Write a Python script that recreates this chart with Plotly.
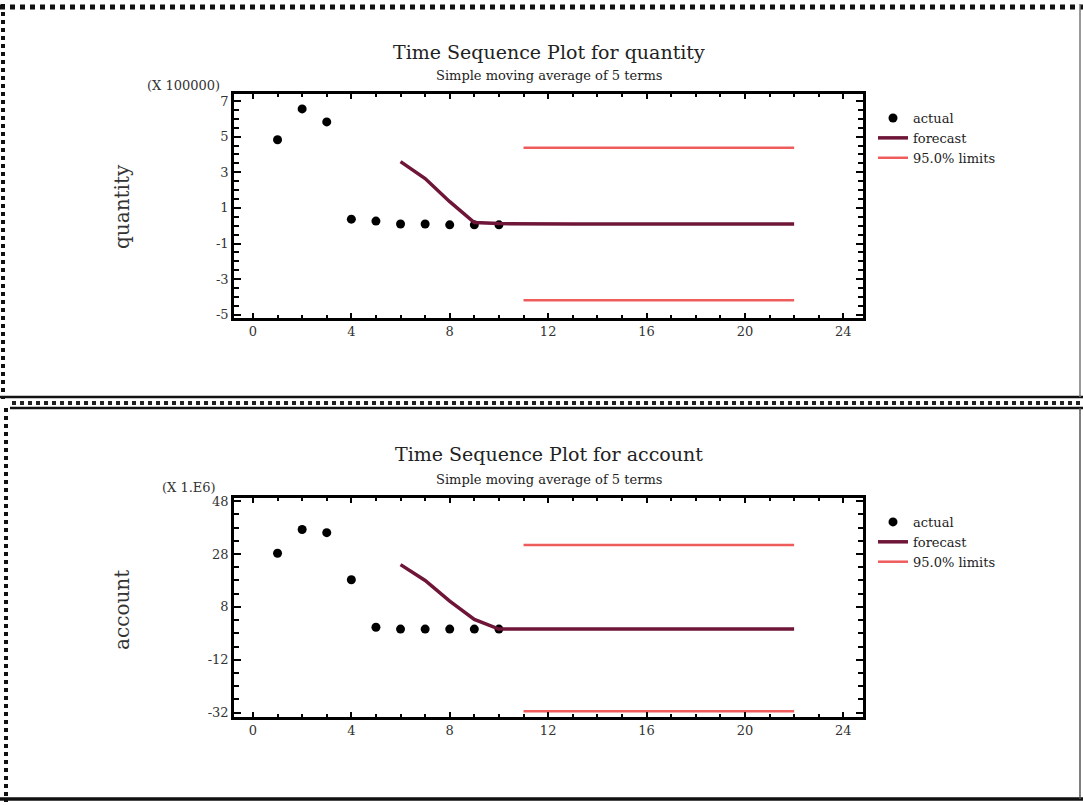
import plotly.graph_objects as go

# ---- data -------------------------------------------------------------
periods = [1, 2, 3, 4, 5, 6, 7, 8, 9, 10]
fc_periods = [6, 7, 8, 9, 10, 11, 12, 13, 14, 15, 16, 17, 18, 19, 20, 21, 22]
lim_periods = [11, 12, 13, 14, 15, 16, 17, 18, 19, 20, 21, 22]

# quantity (X 100000)
qty_actual = [4.83, 6.56, 5.83, 0.37, 0.26, 0.10, 0.10, 0.05, 0.05, 0.05]
qty_forecast = [3.60, 2.65, 1.35, 0.18, 0.12, 0.10, 0.10, 0.10, 0.10, 0.10,
                0.10, 0.10, 0.10, 0.10, 0.10, 0.10, 0.10]
qty_upper = [4.38, 4.38, 4.38, 4.38, 4.38, 4.38, 4.38, 4.38, 4.38, 4.38, 4.38, 4.38]
qty_lower = [-4.18, -4.18, -4.18, -4.18, -4.18, -4.18, -4.18, -4.18, -4.18, -4.18, -4.18, -4.18]

# account (X 1.E6)
acc_actual = [28.3, 37.3, 36.1, 18.3, 0.3, -0.4, -0.4, -0.4, -0.4, -0.4]
acc_forecast = [24.0, 18.0, 10.2, 3.3, -0.4, -0.4, -0.4, -0.4, -0.4, -0.4,
                -0.4, -0.4, -0.4, -0.4, -0.4, -0.4, -0.4]
acc_upper = [31.4, 31.4, 31.4, 31.4, 31.4, 31.4, 31.4, 31.4, 31.4, 31.4, 31.4, 31.4]
acc_lower = [-31.5, -31.5, -31.5, -31.5, -31.5, -31.5, -31.5, -31.5, -31.5, -31.5, -31.5, -31.5]

x_ticks = [0, 4, 8, 12, 16, 20, 24]
qty_ticks = [7, 5, 3, 1, -1, -3, -5]
acc_ticks = [48, 28, 8, -12, -32]

# ---- styling ----------------------------------------------------------
W, H = 1083, 806
FONT = "DejaVu Serif"
ACTUAL_C = "#000000"
FORECAST_C = "#6e1538"
LIMIT_C = "#ee5c5c"


def px(x):
    return x / W


def py(y):
    return 1 - y / H


fig = go.Figure()


def add_panel(actual, forecast, upper, lower, xa, ya, legend):
    fig.add_trace(go.Scatter(
        x=periods, y=actual, mode="markers", name="actual",
        marker=dict(color=ACTUAL_C, size=9), xaxis=xa, yaxis=ya, legend=legend))
    fig.add_trace(go.Scatter(
        x=fc_periods, y=forecast, mode="lines", name="forecast",
        line=dict(color=FORECAST_C, width=3.5), xaxis=xa, yaxis=ya, legend=legend))
    fig.add_trace(go.Scatter(
        x=lim_periods, y=upper, mode="lines", name="95.0% limits",
        line=dict(color=LIMIT_C, width=2.5), xaxis=xa, yaxis=ya, legend=legend,
        legendgroup=legend + "lim"))
    fig.add_trace(go.Scatter(
        x=lim_periods, y=lower, mode="lines", name="95.0% limits",
        line=dict(color=LIMIT_C, width=2.5), xaxis=xa, yaxis=ya, legend=legend,
        legendgroup=legend + "lim", showlegend=False))


add_panel(qty_actual, qty_forecast, qty_upper, qty_lower, "x", "y", "legend")
add_panel(acc_actual, acc_forecast, acc_upper, acc_lower, "x2", "y2", "legend2")

tick_font = dict(family=FONT, size=13, color="#333333")

xaxis_common = dict(
    range=[-0.77, 24.8], tickvals=x_ticks, ticks="inside", ticklen=5, tickwidth=2,
    tickcolor="#000", showline=True, linecolor="#000", linewidth=2.5, mirror="ticks",
    showgrid=False, zeroline=False, tickfont=tick_font,
    minor=dict(dtick=1, ticks="inside", ticklen=3, tickwidth=1.5, tickcolor="#000",
               showgrid=False),
    domain=[px(234), px(863)],
)
yaxis_common = dict(
    ticks="inside", ticklen=7, tickwidth=2, tickcolor="#000", showline=True,
    linecolor="#000", linewidth=2.5, mirror="ticks", showgrid=False, zeroline=False,
    tickfont=tick_font,
)

# plain hyphen for negative labels
qty_labels = [str(v) for v in qty_ticks]
acc_labels = [str(v) for v in acc_ticks]

legend_style = dict(xanchor="left", yanchor="top",
                    font=dict(family=FONT, size=13, color="#222"),
                    bgcolor="rgba(0,0,0,0)", tracegroupgap=0, itemwidth=30)

fig.update_layout(
    width=W, height=H, margin=dict(l=0, r=0, t=0, b=0),
    paper_bgcolor="white", plot_bgcolor="white",
    font=dict(family=FONT, color="#222"),
    xaxis=dict(anchor="y", **xaxis_common),
    xaxis2=dict(anchor="y2", **xaxis_common),
    yaxis=dict(anchor="x", domain=[py(317), py(91)], range=[-5.17, 7.39],
               tickvals=qty_ticks, ticktext=qty_labels,
               minor=dict(dtick=0.5, tick0=1, ticks="inside", ticklen=5, tickwidth=2,
                          tickcolor="#000", showgrid=False),
               **yaxis_common),
    yaxis2=dict(anchor="x2", domain=[py(720), py(499)], range=[-33.6, 49.2],
                tickvals=acc_ticks, ticktext=acc_labels,
                minor=dict(dtick=5, tick0=8, ticks="inside", ticklen=5, tickwidth=2,
                           tickcolor="#000", showgrid=False),
                **yaxis_common),
    legend=dict(x=px(873), y=py(100), **legend_style),
    legend2=dict(x=px(873), y=py(508), **legend_style),
    showlegend=True,
)

# ---- titles and axis captions ----------------------------------------
def text(x, y, s, size, xanchor="center", angle=0, color="#222"):
    fig.add_annotation(x=px(x), y=py(y), xref="paper", yref="paper", text=s,
                       showarrow=False, xanchor=xanchor, yanchor="middle",
                       textangle=angle, font=dict(family=FONT, size=size, color=color))


text(549, 48, "Time Sequence Plot for quantity", 19)
text(549, 72, "Simple moving average of 5 terms", 13)
text(222, 82, "(X 100000)", 13, xanchor="right", color="#333")
text(122, 205, "quantity", 20, angle=-90, color="#333")

text(549, 455, "Time Sequence Plot for account", 19)
text(549, 480, "Simple moving average of 5 terms", 13)
text(218, 488, "(X 1.E6)", 13, xanchor="right", color="#333")
text(122, 612, "account", 20, angle=-90, color="#333")

# ---- panel frames -----------------------------------------------------
def seg(x0, y0, x1, y1, color, width, dash="solid"):
    fig.add_shape(type="line", xref="paper", yref="paper",
                  x0=px(x0), y0=py(y0), x1=px(x1), y1=py(y1),
                  line=dict(color=color, width=width, dash=dash))


# upper panel
seg(0, 3, W, 3, "#111", 5, "dot")
seg(3, 0, 3, 399, "#111", 4, "dot")
seg(0, 397, W, 397, "#111", 2.5)
seg(1080, 0, 1080, 397, "#777", 1.5)
# separator between panels
seg(12, 403, W, 403, "#222", 4, "dot")
# lower panel
seg(10, 408, W, 408, "#111", 2.5)
seg(6, 408, 6, 806, "#111", 4, "dot")
seg(0, 803, W, 803, "#111", 3.5)
seg(1080, 408, 1080, 803, "#555", 1.5)

fig.write_html("out.html")
